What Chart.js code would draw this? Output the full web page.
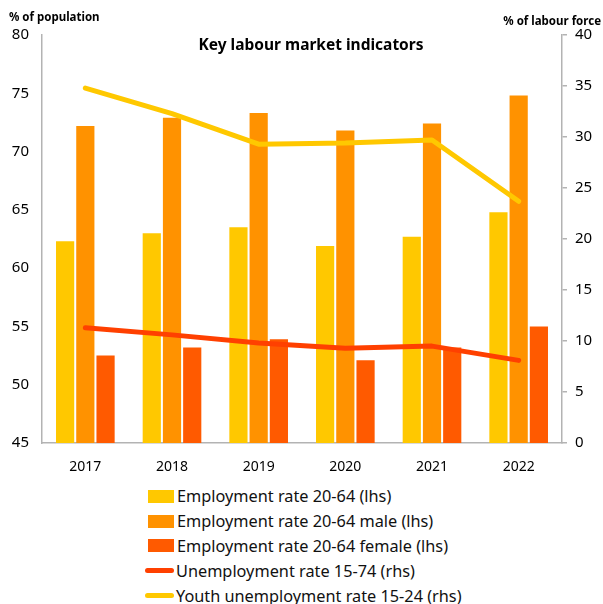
<!DOCTYPE html>
<html>
<head>
<meta charset="utf-8">
<script src="https://cdn.jsdelivr.net/npm/chart.js@4.4.0/dist/chart.umd.min.js"></script>
<style>
  body { margin: 0; background: #fff; font-family: "Noto Sans", sans-serif; }
  #wrap { position: relative; width: 603px; height: 604px; }
  #chart { position: absolute; left: 0; top: 0; }
  #legend { position: absolute; left: 145px; top: 484px; font-size: 16.3px; color: #111; }
  #legend .row { height: 24.8px; display: flex; align-items: center; }
  #legend .swatch { width: 26px; margin-right: 3px; margin-left: 3px; }
  #legend .line { width: 29px; height: 5px; border-radius: 3px; margin-right: 2px; margin-left: 0; }
</style>
</head>
<body>
<div id="wrap">
  <canvas id="chart" width="603" height="480"></canvas>
  <div id="legend"></div>
</div>
<script>
const years = ["2017", "2018", "2019", "2020", "2021", "2022"];

// employment rates, % of population (left axis)
const empTotal  = [62.3, 63.0, 63.5, 61.9, 62.7, 64.8];
const empMale   = [72.2, 72.9, 73.3, 71.8, 72.4, 74.8];
const empFemale = [52.5, 53.2, 53.9, 52.1, 53.2, 55.0];

// unemployment rates, % of labour force (right axis)
const unemp      = [11.3, 10.6, 9.8, 9.3, 9.5, 8.1];
const youthUnemp = [34.8, 32.3, 29.3, 29.4, 29.7, 23.7];

const COL_TOTAL = "#ffc800";
const COL_MALE = "#ff9200";
const COL_FEMALE = "#ff5a00";
const COL_UNEMP = "#ff4000";
const COL_YOUTH = "#ffc800";

const FONT = "'Noto Sans', sans-serif";
const AXIS_GREY = "#b3b3b3";

// text that sits inside / around the plot area
const labelsPlugin = {
    id: "chartText",
    afterDraw(chart) {
        const ctx = chart.ctx;
        const area = chart.chartArea;
        ctx.save();
        ctx.fillStyle = "#000";
        ctx.textBaseline = "middle";
        ctx.font = "bold 15.5px " + FONT;
        ctx.textAlign = "center";
        ctx.fillText("Key labour market indicators", area.left + (area.right - area.left) / 2 + 9, 46);
        ctx.font = "bold 11.5px " + FONT;
        ctx.textAlign = "left";
        ctx.fillText("% of population", 9, 18);
        ctx.textAlign = "right";
        ctx.fillText("% of labour force", 601, 22);
        ctx.restore();
    }
};

function barSet(label, data, color) {
    return {
        type: "bar",
        label: label,
        data: data,
        backgroundColor: color,
        yAxisID: "yL",
        order: 2,
        categoryPercentage: 0.7,
        barPercentage: 0.9
    };
}

function lineSet(label, data, color) {
    return {
        type: "line",
        label: label,
        data: data,
        borderColor: color,
        backgroundColor: color,
        borderWidth: 5,
        borderCapStyle: "round",
        borderJoinStyle: "round",
        pointRadius: 0,
        tension: 0,
        yAxisID: "yR",
        order: 1
    };
}

const datasets = [
    barSet("Employment rate 20-64 (lhs)", empTotal, COL_TOTAL),
    barSet("Employment rate 20-64 male (lhs)", empMale, COL_MALE),
    barSet("Employment rate 20-64 female (lhs)", empFemale, COL_FEMALE),
    lineSet("Unemployment rate 15-74 (rhs)", unemp, COL_UNEMP),
    lineSet("Youth unemployment rate 15-24 (rhs)", youthUnemp, COL_YOUTH)
];

const chart = new Chart(document.getElementById("chart").getContext("2d"), {
    data: { labels: years, datasets: datasets },
    options: {
        responsive: false,
        animation: false,
        layout: { padding: { top: 35, left: 0, right: 0, bottom: 0 } },
        plugins: {
            legend: { display: false },
            tooltip: { enabled: false }
        },
        scales: {
            x: {
                grid: { display: false },
                border: { display: true, color: AXIS_GREY, width: 1.5 },
                ticks: { color: "#000", font: { family: FONT, size: 14 }, padding: 8 },
                afterFit(s) { s.height = 37; }
            },
            yL: {
                position: "left",
                min: 45, max: 80,
                grid: { display: false, drawTicks: false },
                border: { display: true, color: AXIS_GREY, width: 1.5 },
                ticks: { stepSize: 5, color: "#000", font: { family: FONT, size: 15 }, padding: 13 },
                afterFit(s) { s.width = 42; }
            },
            yR: {
                position: "right",
                min: 0, max: 40,
                grid: { display: true, drawOnChartArea: false, drawTicks: true, tickLength: 5, color: AXIS_GREY, lineWidth: 1.5 },
                border: { display: true, color: AXIS_GREY, width: 1.5 },
                ticks: { stepSize: 5, color: "#000", font: { family: FONT, size: 15 }, padding: 8 },
                afterFit(s) { s.width = 41; }
            }
        }
    },
    plugins: [labelsPlugin]
});

// legend, one entry per line
const legend = document.getElementById("legend");
datasets.forEach(ds => {
    const row = document.createElement("div");
    row.className = "row";
    const mark = document.createElement("span");
    if (ds.type === "bar") {
        mark.className = "swatch";
        mark.style.height = "13px";
    } else {
        mark.className = "line";
    }
    mark.style.background = ds.type === "bar" ? ds.backgroundColor : ds.borderColor;
    const txt = document.createElement("span");
    txt.textContent = ds.label;
    row.appendChild(mark);
    row.appendChild(txt);
    legend.appendChild(row);
});
</script>
</body>
</html>
